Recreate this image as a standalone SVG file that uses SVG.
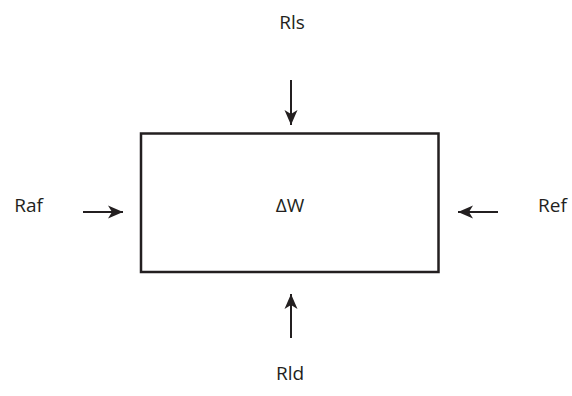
<svg xmlns="http://www.w3.org/2000/svg" width="572" height="396" viewBox="0 0 572 396">
  <style>
    .lbl { font-family: "Open Sans", "Liberation Sans", sans-serif; font-size: 19px; fill: #231f20; text-anchor: middle; }
    .box { fill: #ffffff; stroke: #231f20; stroke-width: 2.5; }
    .flow { stroke: #231f20; stroke-width: 2; fill: none; marker-end: url(#head); }
  </style>
  <defs>
    <!-- notched arrowhead, tip at the line end -->
    <marker id="head" markerUnits="userSpaceOnUse" markerWidth="16" markerHeight="14" viewBox="0 -7 16 14" refX="15" refY="0" orient="auto">
      <path d="M15 0 L0 -6.5 L4 0 L0 6.5 Z" fill="#231f20"/>
    </marker>
  </defs>
  <rect width="572" height="396" fill="#ffffff"/>

  <g id="storage">
    <rect class="box" x="141" y="133.5" width="297.5" height="138.5"/>
    <text class="lbl" x="290" y="212">ΔW</text>
  </g>

  <g id="rls">
    <text class="lbl" x="292" y="29">Rls</text>
  </g>
  <g id="raf">
    <text class="lbl" x="28.5" y="212">Raf</text>
  </g>
  <g id="ref">
    <text class="lbl" x="552.5" y="212">Ref</text>
  </g>
  <g id="rld">
    <text class="lbl" x="290" y="380">Rld</text>
  </g>

  <g id="connectors">
    <line class="flow" x1="291" y1="80" x2="291" y2="125"/>
    <line class="flow" x1="83" y1="212" x2="123" y2="212"/>
    <line class="flow" x1="498" y1="212" x2="458" y2="212"/>
    <line class="flow" x1="291" y1="338" x2="291" y2="294"/>
  </g>
</svg>
